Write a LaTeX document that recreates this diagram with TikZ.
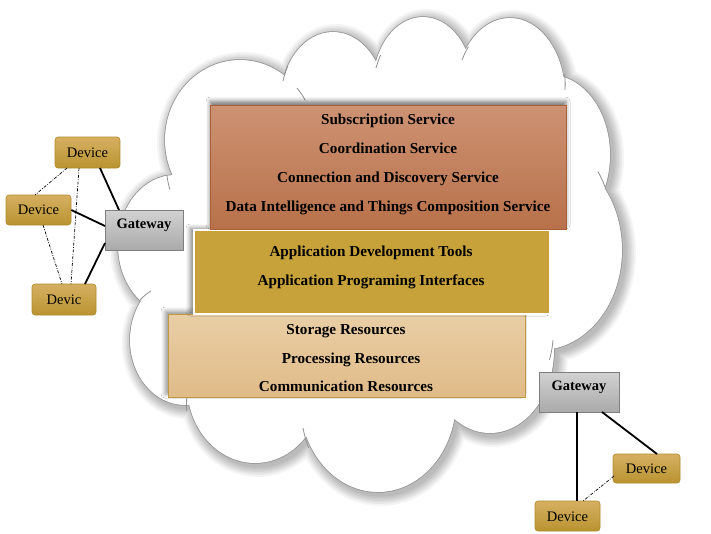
\documentclass[tikz,border=0pt]{standalone}
\usepackage{fontspec}
\setmainfont{Liberation Serif}
\usetikzlibrary{shadows.blur}
\definecolor{cloudline}{HTML}{909090}
\definecolor{topA}{HTML}{CD9273}
\definecolor{topB}{HTML}{B8714A}
\definecolor{topline}{HTML}{A86038}
\definecolor{midC}{HTML}{C7A23A}
\definecolor{botA}{HTML}{E9CEA5}
\definecolor{botB}{HTML}{E0BB88}
\definecolor{botline}{HTML}{C09A40}
\definecolor{devA}{HTML}{D6B062}
\definecolor{devB}{HTML}{B99330}
\definecolor{devline}{HTML}{B08A2A}
\definecolor{gwA}{HTML}{D2D2D2}
\definecolor{gwB}{HTML}{AAAAAA}
\definecolor{gwline}{HTML}{7F7F7F}
\tikzset{
  lbl/.style={font=\fontsize{15.2}{17}\selectfont\bfseries, inner sep=0pt, anchor=base},
  gwlbl/.style={font=\fontsize{14.5}{16}\selectfont\bfseries, inner sep=0pt, anchor=base},
  devbox/.style={rounded corners=3pt, draw=devline, top color=devA, bottom color=devB, line width=0.6pt},
  devtext/.style={font=\fontsize{14.5}{16}\selectfont, inner sep=0pt, anchor=base},
  gwbox/.style={draw=gwline, top color=gwA, bottom color=gwB, line width=0.7pt},
  solidlink/.style={line width=1.8pt, black},
  dashlink/.style={line width=0.7pt, black, dash pattern=on 3pt off 1.5pt on 0.8pt off 1.5pt},
  stub/.style={cloudline, line width=0.8pt},
}
\newcommand{\cloudpuffs}{%
  (240,140) ellipse [x radius=75, y radius=80]
  (333,100) ellipse [x radius=52, y radius=68]
  (423,85) ellipse [x radius=50, y radius=68]
  (510,95) ellipse [x radius=55, y radius=77]
  (550,155) ellipse [x radius=60, y radius=80]
  (540,250) ellipse [x radius=82, y radius=100]
  (490,350) ellipse [x radius=64, y radius=83]
  (378,400) ellipse [x radius=78, y radius=92]
  (255,385) ellipse [x radius=68, y radius=78]
  (185,340) ellipse [x radius=55, y radius=65]
  (175,245) ellipse [x radius=57, y radius=70]}
\begin{document}
\begin{tikzpicture}[x=1pt,y=-1pt]
\useasboundingbox (0,0) rectangle (711,533);
% cloud soft shadow
\foreach \w in {22,18,15,12,9,6,3} {
  \begin{scope}[transparency group, opacity=0.045, xshift=3pt, yshift=-3pt]
    \draw[black, line width=\w pt, line join=round] \cloudpuffs;
    \fill[black] \cloudpuffs;
  \end{scope}
}
% cloud outline and fill
\draw[cloudline, line width=1.5pt] \cloudpuffs;
\fill[white] \cloudpuffs
  (235,135) -- (333,95) -- (423,80) -- (510,95) -- (550,155) -- (540,250) -- (490,350) -- (378,400) -- (255,385) -- (185,340) -- (175,245) -- cycle;
% inner stubs
\draw[stub] (283,81) arc[start angle=196, end angle=210, x radius=52, y radius=68];
\draw[stub] (297,88) arc[start angle=-41, end angle=-30, x radius=75, y radius=80];
\draw[stub] (376,68) arc[start angle=200, end angle=212, x radius=50, y radius=68];
\draw[stub] (462,60) arc[start angle=208, end angle=220, x radius=55, y radius=77];
\draw[stub] (565,90) arc[start angle=4, end angle=-8, x radius=55, y radius=77];
\draw[stub] (605,187) arc[start angle=-25, end angle=-38, x radius=60, y radius=80];
\draw[stub] (553,340) arc[start angle=6, end angle=20, x radius=64, y radius=83];
\draw[stub] (303,428) arc[start angle=168, end angle=155, x radius=78, y radius=92];
\draw[stub] (187,395) arc[start angle=187, end angle=175, x radius=68, y radius=78];
\draw[stub] (140,300) arc[start angle=-132, end angle=-118, x radius=55, y radius=65];
\draw[stub] (167,176) arc[start angle=172, end angle=162, x radius=75, y radius=80];

% layer boxes
\path[blur shadow={shadow xshift=-3pt, shadow yshift=3pt, shadow blur radius=4pt, shadow opacity=40}]
  (168,314) rectangle (525,397);
\node[draw=botline, line width=0.7pt, top color=botA, bottom color=botB, minimum width=357pt, minimum height=83pt, inner sep=0pt, anchor=north west] (res) at (168,314) {};
\node[lbl] (r1) at (346,334) {Storage Resources};
\node[lbl] (r2) at (351,363) {Processing Resources};
\node[lbl] (r3) at (346,391) {Communication Resources};

\path[blur shadow={shadow xshift=-3pt, shadow yshift=1pt, shadow blur radius=4pt, shadow opacity=45}]
  (193,229) rectangle (549,313);
\node[draw=white, line width=2pt, fill=midC, minimum width=356pt, minimum height=84pt, inner sep=0pt, anchor=north west] (app) at (193,229) {};
\node[lbl] (a1) at (371,256) {Application Development Tools};
\node[lbl] (a2) at (371,285) {Application Programing Interfaces};

\path[blur shadow={shadow xshift=0pt, shadow yshift=4pt, shadow blur radius=4pt, shadow opacity=50}]
  (210,105) rectangle (566,229);
\node[draw=topline, line width=0.5pt, top color=topA, bottom color=topB, minimum width=356pt, minimum height=124pt, inner sep=0pt, anchor=north west] (svc) at (210,105) {};
\node[lbl] (s1) at (388,124) {Subscription Service};
\node[lbl] (s2) at (388,153) {Coordination Service};
\node[lbl] (s3) at (388,182) {Connection and Discovery Service};
\node[lbl] (s4) at (388,211) {Data Intelligence and Things Composition Service};

% left side
\node[gwbox, minimum width=78pt, minimum height=40pt, inner sep=0pt, anchor=north west] (gw1) at (105,210) {};
\node[gwlbl] (gw1t) at (144,228) {Gateway};
\node[devbox, minimum width=65pt, minimum height=31pt, inner sep=0pt] (d1) at (87.5,152.5) {};
\node[devtext] (d1t) at (87.5,157) {Device};
\node[devbox, minimum width=65pt, minimum height=30pt, inner sep=0pt] (d2) at (38.5,210) {};
\node[devtext] (d2t) at (38.5,214.5) {Device};
\node[devbox, minimum width=64pt, minimum height=31pt, inner sep=0pt] (d3) at (64,299.5) {};
\node[devtext] (d3t) at (64,304) {Devic};

\coordinate (g1a) at (119,210);
\coordinate (g1b) at (105,226);
\coordinate (g1c) at (105,243);
\coordinate (d1s) at (100,168);
\coordinate (d3n) at (85,284);
\draw[solidlink] (d1s) -- (g1a);
\draw[solidlink] (d2.east) -- (g1b);
\draw[solidlink] (d3n) -- (g1c);
\draw[dashlink] (67,168) coordinate (d1l) -- (35,195) coordinate (d2top);
\draw[dashlink] (79,168) coordinate (d1m) -- (71,284) coordinate (d3m);
\draw[dashlink] (43,225) coordinate (d2b) -- (62,284) coordinate (d3l);

% right side
\node[gwbox, minimum width=80pt, minimum height=40pt, inner sep=0pt, anchor=north west] (gw2) at (539,372) {};
\node[gwlbl] (gw2t) at (579,390) {Gateway};
\node[devbox, minimum width=67pt, minimum height=29pt, inner sep=0pt] (d4) at (646.5,468.5) {};
\node[devtext] (d4t) at (646.5,473.5) {Device};
\node[devbox, minimum width=65pt, minimum height=30pt, inner sep=0pt] (d5) at (567.5,516) {};
\node[devtext] (d5t) at (567.5,521) {Device};
\draw[solidlink] (577,412) coordinate (g2a) -- (577,501) coordinate (d5top);
\draw[solidlink] (602,412) coordinate (g2b) -- (657,454) coordinate (d4top);
\draw[dashlink] (614,476) coordinate (d4l) -- (583,501) coordinate (d5r);
\end{tikzpicture}
\end{document}
